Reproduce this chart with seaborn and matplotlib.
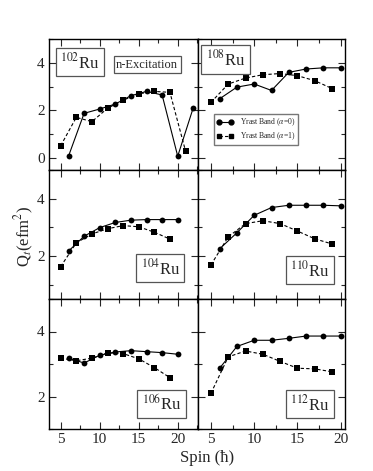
import matplotlib
matplotlib.use("Agg")
import matplotlib.pyplot as plt
from matplotlib.lines import Line2D
from matplotlib.ticker import MultipleLocator
import seaborn as sns
import pandas as pd

sns.set_style("ticks")
plt.rcParams['font.family'] = ['Liberation Serif', 'DejaVu Serif']
plt.rcParams['mathtext.fontset'] = 'stix'

# spins for the two signature partners
spin_a0 = [6, 8, 10, 12, 14, 16, 18, 20]
spin_a1 = [5, 7, 9, 11, 13, 15, 17, 19]
spin_a0_102 = [6, 8, 10, 12, 14, 16, 18, 20, 22]
spin_a1_102 = [5, 7, 9, 11, 13, 15, 17, 19, 21]

q102_a0 = [0.08, 1.88, 2.06, 2.27, 2.62, 2.8, 2.65, 0.08, 2.12]
q102_a1 = [0.52, 1.71, 1.53, 2.09, 2.43, 2.7, 2.8, 2.76, 0.3]
q108_a0 = [2.49, 2.98, 3.11, 2.84, 3.6, 3.74, 3.79, 3.79]
q108_a1 = [2.34, 3.11, 3.36, 3.5, 3.55, 3.46, 3.25, 2.92]
q104_a0 = [2.17, 2.69, 2.99, 3.17, 3.25, 3.27, 3.27, 3.27]
q104_a1 = [1.63, 2.46, 2.77, 2.95, 3.06, 3.02, 2.83, 2.59]
q110_a0 = [2.25, 2.81, 3.42, 3.69, 3.77, 3.77, 3.77, 3.75]
q110_a1 = [1.69, 2.67, 3.13, 3.23, 3.13, 2.87, 2.6, 2.42]
q106_a0 = [3.18, 3.03, 3.27, 3.37, 3.41, 3.38, 3.35, 3.3]
q106_a1 = [3.18, 3.1, 3.18, 3.34, 3.32, 3.16, 2.89, 2.58]
q112_a0 = [2.87, 3.54, 3.73, 3.73, 3.79, 3.86, 3.86, 3.86]
q112_a1 = [2.1, 3.22, 3.4, 3.3, 3.08, 2.87, 2.85, 2.76]

W, H = 373, 471
fig = plt.figure(figsize=(W / 100, H / 100), dpi=100)


def box(l, t, r, b):
    return [l / W, 1 - b / H, (r - l) / W, (b - t) / H]


panels = [
    # (rect, xlim, ylim, spins0, q0, spins1, q1, label, label pos)
    (box(49, 39, 198, 170), (3.5, 22.6), (-0.5, 5), spin_a0_102, q102_a0, spin_a1_102, q102_a1, "102", (0.205, 0.824)),
    (box(198, 39, 345, 170), (3.5, 20.5), (-0.5, 5), spin_a0, q108_a0, spin_a1, q108_a1, "108", (0.187, 0.843)),
    (box(49, 170, 198, 299), (3.5, 22.6), (0.5, 5), spin_a0, q104_a0, spin_a1, q104_a1, "104", (0.748, 0.24)),
    (box(198, 170, 345, 299), (3.5, 20.5), (0.5, 5), spin_a0, q110_a0, spin_a1, q110_a1, "110", (0.762, 0.225)),
    (box(49, 299, 198, 429), (3.5, 22.6), (1, 5), spin_a0, q106_a0, spin_a1, q106_a1, "106", (0.755, 0.192)),
    (box(198, 299, 345, 429), (3.5, 20.5), (1, 5), spin_a0, q112_a0, spin_a1, q112_a1, "112", (0.762, 0.192)),
]

axes = []
for i, (rect, xl, yl, s0, q0, s1, q1, iso, lp) in enumerate(panels):
    ax = fig.add_axes(rect)
    df = pd.concat([
        pd.DataFrame({"spin": s0, "Q": q0, "band": "a0"}),
        pd.DataFrame({"spin": s1, "Q": q1, "band": "a1"}),
    ])
    sns.lineplot(data=df, x="spin", y="Q", style="band",
                 markers={"a0": "o", "a1": "s"},
                 dashes={"a0": "", "a1": (3, 2)},
                 color="black", lw=0.8, markersize=4.2, markeredgewidth=0,
                 sort=False, legend=False, ax=ax)
    ax.set_xlim(*xl)
    ax.set_ylim(*yl)
    ax.xaxis.set_major_locator(MultipleLocator(5))
    ax.xaxis.set_minor_locator(MultipleLocator(2.5))
    ax.yaxis.set_major_locator(MultipleLocator(2))
    ax.yaxis.set_minor_locator(MultipleLocator(1))
    ax.tick_params(which="both", direction="in", top=True, right=True,
                   labelsize=11, width=0.8, pad=3)
    ax.tick_params(which="major", length=5)
    ax.tick_params(which="minor", length=3)
    for sp in ax.spines.values():
        sp.set_linewidth(1.0)
        sp.set_color("black")
    ax.set_xlabel("")
    ax.set_ylabel("")
    if i % 2 == 1:
        ax.tick_params(labelleft=False)
    if i < 4:
        ax.tick_params(labelbottom=False)
    ax.text(lp[0], lp[1], r"$^{%s}$Ru" % iso, transform=ax.transAxes,
            ha="center", va="center", fontsize=12,
            bbox=dict(boxstyle="square,pad=0.25", fc="white", ec="#555555", lw=0.9))
    axes.append(ax)

axes[0].text(0.658, 0.805, "n-Excitation", transform=axes[0].transAxes,
             ha="center", va="center", fontsize=9,
             bbox=dict(boxstyle="square,pad=0.2", fc="white", ec="#555555", lw=0.9))

handles = [
    Line2D([], [], color="black", lw=0.8, marker="o", markersize=3.5,
           label=r"Yrast Band ($\alpha$=0)"),
    Line2D([], [], color="black", lw=0.8, ls=(0, (3, 2)), marker="s", markersize=3.5,
           label=r"Yrast Band ($\alpha$=1)"),
]
axes[1].legend(handles=handles, loc="lower left", bbox_to_anchor=(0.08, 0.16),
               fontsize=5.5, frameon=True, fancybox=False, edgecolor="#555555",
               handlelength=2.2, borderpad=0.4, labelspacing=0.3, numpoints=2)

fig.text(24 / W, 1 - 236 / H, r"Q$_t$(efm$^2$)", rotation=90,
         ha="center", va="center", fontsize=12)
fig.text(207 / W, 1 - 458 / H, "Spin (ħ)", ha="center", va="center", fontsize=12)

fig.savefig("out.png", dpi=100)
